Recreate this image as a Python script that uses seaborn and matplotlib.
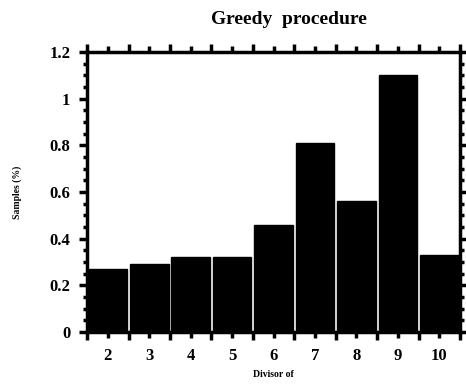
import matplotlib
matplotlib.use("Agg")
from matplotlib import pyplot as plt
from matplotlib.ticker import MultipleLocator, FixedLocator
import seaborn as sns
import numpy as np
import pandas as pd

divisors = ['2', '3', '4', '5', '6', '7', '8', '9', '10']
samples = [0.27, 0.29, 0.32, 0.32, 0.46, 0.81, 0.56, 1.10, 0.33]

sns.set_style("ticks")
plt.rcParams['font.family'] = ['Liberation Serif', 'DejaVu Serif']
plt.rcParams['font.weight'] = 'bold'
plt.rcParams['text.color'] = 'black'
plt.rcParams['axes.labelcolor'] = 'black'

df = pd.DataFrame({'divisor': divisors, 'samples': samples})

fig = plt.figure(figsize=(4.66, 3.89), dpi=100)
ax = fig.add_axes([0.187, 0.147, 0.80, 0.719])
sns.barplot(data=df, x='divisor', y='samples', color='black', width=0.93,
            saturation=1, ax=ax, edgecolor='black')

ax.set_xlim(-0.5, len(divisors) - 0.5)
ax.set_ylim(0, 1.2)
ax.set_yticks([0, 0.2, 0.4, 0.6, 0.8, 1.0, 1.2])
ax.set_yticklabels(['0', '0.2', '0.4', '0.6', '0.8', '1', '1.2'])
ax.yaxis.set_minor_locator(MultipleLocator(0.05))
ax.xaxis.set_minor_locator(FixedLocator(np.arange(-0.5, len(divisors), 1.0)))

for s in ax.spines.values():
    s.set_linewidth(2.5)
    s.set_color('black')
    s.set_visible(True)

ax.tick_params(which='both', colors='black', labelcolor='black')
ax.tick_params(which='major', direction='out', length=4, width=2.5,
               labelsize=12, top=True, right=True, pad=8)
ax.tick_params(which='minor', direction='out', length=6, width=2.5,
               top=True, right=True)
ax.tick_params(axis='y', which='major', length=6, pad=6)
ax.tick_params(axis='y', which='minor', length=3)
for lbl in ax.get_xticklabels() + ax.get_yticklabels():
    lbl.set_fontweight('bold')

ax.set_xlabel('Divisor of', fontsize=7, fontweight='bold', labelpad=4,
              color='black')
ax.set_ylabel('Samples (%)', fontsize=7, fontweight='bold', labelpad=20,
              color='black')
ax.set_title('Greedy  procedure', fontsize=14, fontweight='bold', pad=20,
             x=0.54, color='black')

fig.savefig('out.png', dpi=100)
